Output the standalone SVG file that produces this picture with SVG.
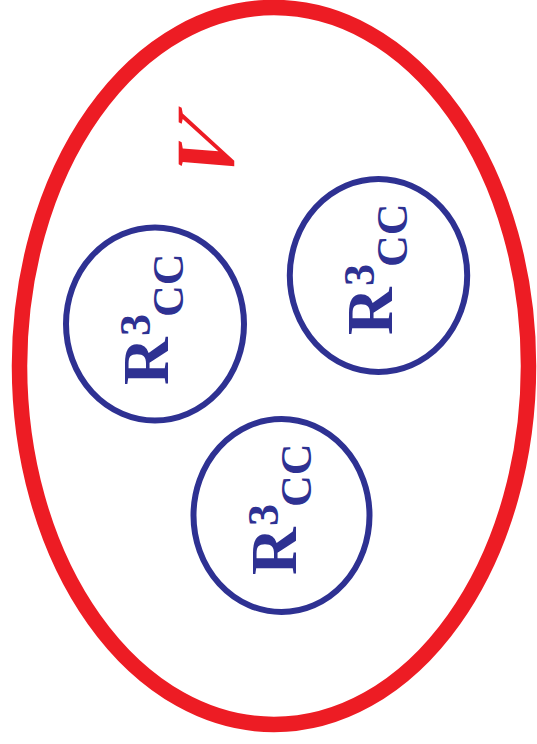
<svg xmlns="http://www.w3.org/2000/svg" width="537" height="744" viewBox="0 0 537 744">
<style>
.outer{fill:none;stroke:#ED1C24;stroke-width:15.5}
.inner{fill:none;stroke:#2E3192;stroke-width:6}
.lbl{font-family:'Liberation Serif',serif;font-weight:bold;fill:#2E3192}
.big{font-size:66px}
.sm{font-size:44px}
.v{font-family:'Liberation Serif',serif;font-weight:bold;font-size:83px;fill:#ED1C24}
</style>
<rect width="537" height="744" fill="#fff"/>
<g id="set-V">
<ellipse class="outer" cx="274" cy="366" rx="254.5" ry="358.5"/>
<text class="v" transform="translate(233,193) rotate(-90) skewX(-27)" x="0" y="0">V</text>
</g>
<g id="node-1">
<ellipse class="inner" cx="155" cy="324" rx="89" ry="96.5"/>
<text class="lbl" transform="translate(168,385) rotate(-90)"><tspan class="big" x="0" y="0">R</tspan><tspan class="sm" x="49" y="-18">3</tspan><tspan class="sm" x="68" y="15">CC</tspan></text>
</g>
<g id="node-2">
<ellipse class="inner" cx="378.5" cy="275.5" rx="88.7" ry="96.5"/>
<text class="lbl" transform="translate(392,335) rotate(-90)"><tspan class="big" x="0" y="0">R</tspan><tspan class="sm" x="49" y="-18">3</tspan><tspan class="sm" x="68" y="15">CC</tspan></text>
</g>
<g id="node-3">
<ellipse class="inner" cx="281.5" cy="515.5" rx="88" ry="96.5"/>
<text class="lbl" transform="translate(296,575) rotate(-90)"><tspan class="big" x="0" y="0">R</tspan><tspan class="sm" x="49" y="-18">3</tspan><tspan class="sm" x="68" y="15">CC</tspan></text>
</g>
<g id="connectors"/>
</svg>
